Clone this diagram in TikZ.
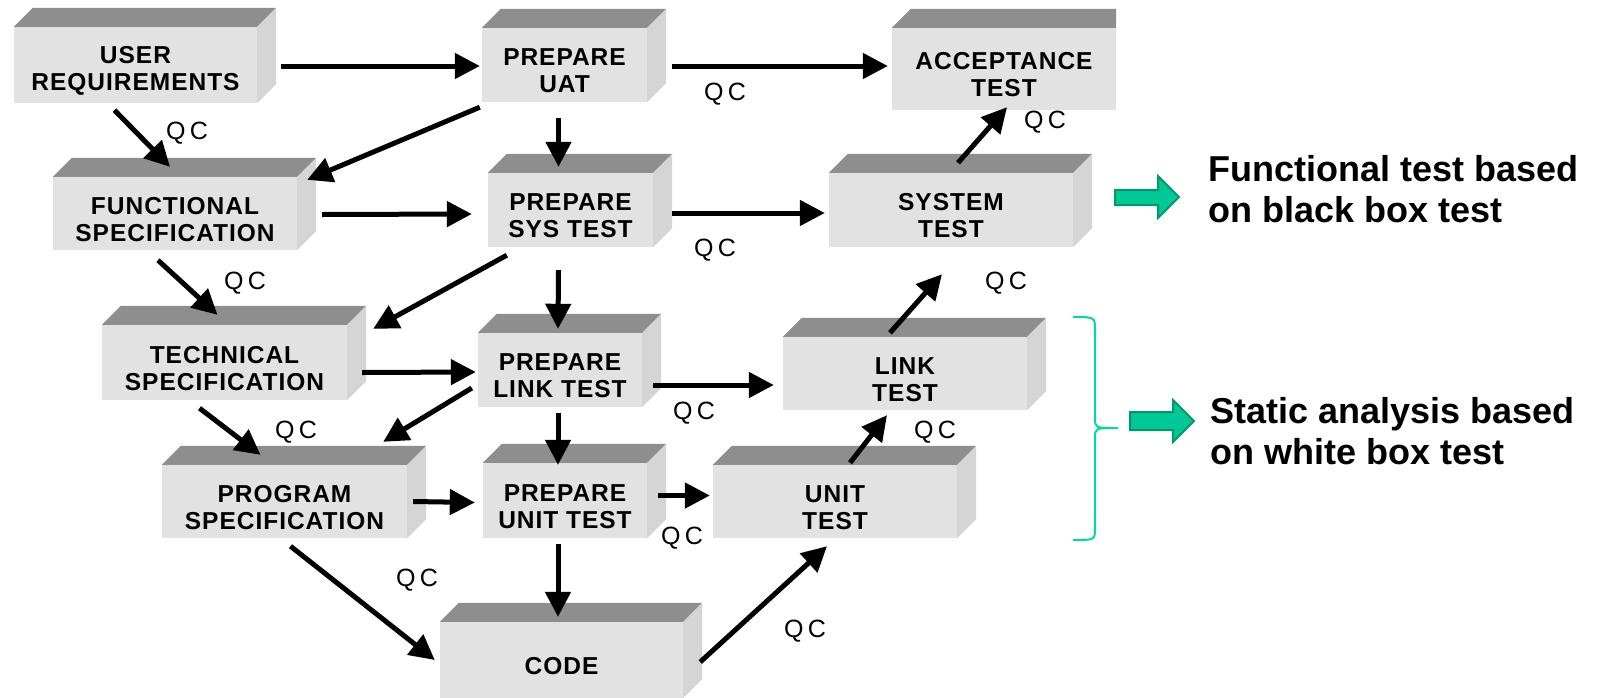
\documentclass[tikz,border=0pt]{standalone}
\usepackage{fontspec}
\setmainfont{Liberation Sans}
\newfontfamily\boxfont[LetterSpace=4]{Liberation Sans}
\newfontfamily\qcfont[LetterSpace=18]{Liberation Sans}
\usepackage{tikz}
\usetikzlibrary{arrows.meta}
\definecolor{facefront}{HTML}{E2E2E2}
\definecolor{facetop}{HTML}{8E8E8E}
\definecolor{faceside}{HTML}{D5D5D5}
\definecolor{notegreen}{HTML}{00C896}
\definecolor{noteedge}{HTML}{00996B}
\definecolor{bracegreen}{HTML}{00D9A0}
\newcommand{\topstrut}{\rule{0pt}{29pt}}

\begin{document}
\begin{tikzpicture}[x=1pt, y=-1pt,
        >={Triangle[length=25pt, width=25pt]},
        box_style/.style={rectangle, fill=facefront, inner sep=0pt, align=center,
          font={\boxfont\bfseries\fontsize{24.5}{27}\selectfont}},
        qc_style/.style={inner sep=0pt, font={\qcfont\fontsize{25}{25}\selectfont}},
        note_style/.style={inner sep=0pt, align=left, anchor=north west,
          font={\bfseries\fontsize{36}{41}\selectfont}},
        arrow_style/.style={->, line width=5pt},
        green_arrow/.style={fill=notegreen, draw=noteedge, line width=2pt}]

      \useasboundingbox (0,0) rectangle (1601,697);

      \node[box_style, minimum width=243pt, minimum height=76pt] (user_req) at (135.5,65) {\topstrut USER\\REQUIREMENTS};
      \node[box_style, minimum width=165pt, minimum height=74pt] (prep_uat) at (564.5,65) {\topstrut PREPARE\\UAT};
      \node[box_style, minimum width=224pt, minimum height=82pt] (accept_test) at (1004,69) {\topstrut ACCEPTANCE\\TEST};
      \node[box_style, minimum width=244pt, minimum height=73pt] (func_spec) at (175,213.5) {\topstrut FUNCTIONAL\\SPECIFICATION};
      \node[box_style, minimum width=165pt, minimum height=74pt] (prep_sys) at (570.5,210) {\topstrut PREPARE\\SYS TEST};
      \node[box_style, minimum width=244pt, minimum height=74pt] (sys_test) at (951,210) {\topstrut SYSTEM\\TEST};
      \node[box_style, minimum width=245pt, minimum height=75pt] (tech_spec) at (224.5,362.5) {\topstrut TECHNICAL\\SPECIFICATION};
      \node[box_style, minimum width=164pt, minimum height=74pt] (prep_link) at (560,370) {\topstrut PREPARE\\LINK TEST};
      \node[box_style, minimum width=244pt, minimum height=73pt] (link_test) at (905,373.5) {\topstrut LINK\\TEST};
      \node[box_style, minimum width=245pt, minimum height=73pt] (prog_spec) at (284.5,501.5) {\topstrut PROGRAM\\SPECIFICATION};
      \node[box_style, minimum width=164pt, minimum height=75pt] (prep_unit) at (565,500.5) {\topstrut PREPARE\\UNIT TEST};
      \node[box_style, minimum width=244pt, minimum height=73pt] (unit_test) at (835,501.5) {\topstrut UNIT\\TEST};
      \node[box_style, minimum width=243pt, minimum height=76pt] (code) at (561.5,660) {\topstrut CODE};

      % top and side faces of the blocks
      \foreach \blk in {user_req, prep_uat, func_spec, prep_sys, sys_test, tech_spec,
          prep_link, link_test, prog_spec, prep_unit, unit_test, code} {
        \fill[facetop] (\blk.north west) -- ++(19,-19) -- ([shift={(19,-19)}]\blk.north east) -- (\blk.north east) -- cycle;
        \fill[faceside] (\blk.north east) -- ++(19,-19) -- ([shift={(19,-19)}]\blk.south east) -- (\blk.south east) -- cycle;
      }
      \fill[facetop] (accept_test.north west) -- ++(19,-19) -| (accept_test.north east) -- cycle;

      \draw[arrow_style] ([shift={(24,1)}]user_req.east) -- ([shift={(-2,1)}]prep_uat.west);
      \draw[arrow_style] ([shift={(25,1)}]prep_uat.east) -- ([shift={(-4,-3)}]accept_test.west);
      \draw[arrow_style] ([shift={(-21,7)}]user_req.south) -- ([shift={(-5,-10)}]func_spec.north);
      \draw[arrow_style] ([shift={(-2,5)}]prep_uat.south west) -- ([shift={(10,3)}]func_spec.north east);
      \draw[arrow_style] ([shift={(-6,16)}]prep_uat.south) -- ([shift={(-12,-6)}]prep_sys.north);
      \draw[arrow_style] ([shift={(25,1)}]func_spec.east) -- ([shift={(-16,4)}]prep_sys.west);
      \draw[arrow_style] ([shift={(19,3)}]prep_sys.east) -- ([shift={(-4,3)}]sys_test.west);
      \draw[arrow_style] ([shift={(7,-10)}]sys_test.north) -- ([shift={(3,-3)}]accept_test.south);
      \draw[arrow_style] ([shift={(-17,10)}]func_spec.south) -- ([shift={(-7,-10)}]tech_spec.north);
      \draw[arrow_style] ([shift={(19,8)}]prep_sys.south west) -- ([shift={(26,4)}]tech_spec.north east);
      \draw[arrow_style] ([shift={(-12,23)}]prep_sys.south) -- ([shift={(-2,-4)}]prep_link.north);
      \draw[arrow_style] ([shift={(15,10)}]tech_spec.east) -- ([shift={(-2,2)}]prep_link.west);
      \draw[arrow_style] ([shift={(11,15)}]prep_link.east) -- ([shift={(-9,11.5)}]link_test.west);
      \draw[arrow_style] ([shift={(-15,-4)}]link_test.north) -- ([shift={(-9,27)}]sys_test.south);
      \draw[arrow_style] ([shift={(-25,8)}]tech_spec.south) -- ([shift={(-24,-10)}]prog_spec.north);
      \draw[arrow_style] ([shift={(-6,18)}]prep_link.west) -- ([shift={(-24,-23)}]prog_spec.north east);
      \draw[arrow_style] ([shift={(-2,6)}]prep_link.south) -- ([shift={(-7,2)}]prep_unit.north);
      \draw[arrow_style] ([shift={(6,0)}]prog_spec.east) -- ([shift={(-8,2)}]prep_unit.west);
      \draw[arrow_style] ([shift={(11,-5)}]prep_unit.east) -- ([shift={(-3,-6)}]unit_test.west);
      \draw[arrow_style] ([shift={(15,-2)}]unit_test.north) -- ([shift={(-18,5)}]link_test.south);
      \draw[arrow_style] ([shift={(-7,6)}]prep_unit.south) -- ([shift={(-3.5,-5)}]code.north);
      \draw[arrow_style] ([shift={(6,8)}]prog_spec.south) -- ([shift={(-5,0)}]code.west);
      \draw[arrow_style] ([shift={(17,2)}]code.east) -- ([shift={(-8,8)}]unit_test.south);

      \node[qc_style] (qc_uat) at (725,94) {QC};
      \node[qc_style] (qc_func) at (187,133) {QC};
      \node[qc_style] (qc_sys) at (715,250) {QC};
      \node[qc_style] (qc_accept) at (1045,122) {QC};
      \node[qc_style] (qc_tech) at (245,283) {QC};
      \node[qc_style] (qc_system) at (1006,283) {QC};
      \node[qc_style] (qc_link) at (694,413) {QC};
      \node[qc_style] (qc_prog) at (296,432) {QC};
      \node[qc_style] (qc_linktest) at (935,432) {QC};
      \node[qc_style] (qc_unit) at (682,538) {QC};
      \node[qc_style] (qc_code) at (417,580) {QC};
      \node[qc_style] (qc_unittest) at (805,631) {QC};

      \draw[green_arrow] (1115,190) -- (1158,190) -- (1158,176) -- (1179,197) -- (1158,218) -- (1158,205) -- (1115,205) -- cycle;
      \draw[green_arrow] (1130,412) -- (1173,412) -- (1173,400) -- (1194,421) -- (1173,442) -- (1173,430) -- (1130,430) -- cycle;
      \draw[bracegreen, line width=2pt] (1073,317) .. controls (1095,317) .. (1095,330) -- (1095,418)
        .. controls (1095,428) .. (1118,428) .. controls (1095,428) .. (1095,438) -- (1095,528)
        .. controls (1095,540) .. (1073,540);

      \node[note_style] (func_note) at (1208,155) {Functional test based\\on black box test};
      \node[note_style] (static_note) at (1210,397) {Static analysis based\\on white box test};
    \end{tikzpicture}
\end{document}
